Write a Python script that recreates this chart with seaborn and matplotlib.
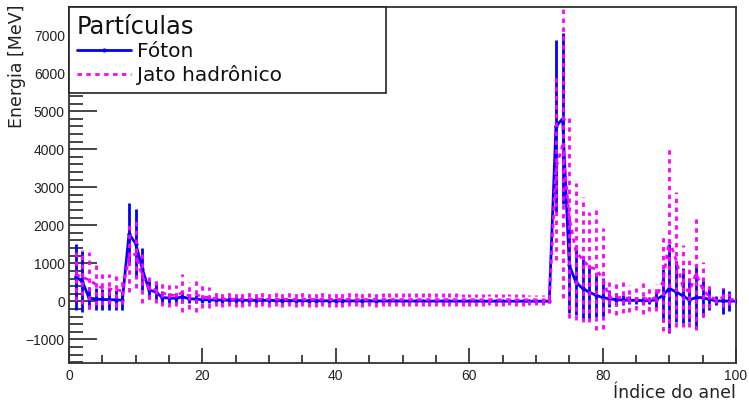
import numpy as np
import pandas as pd
import matplotlib
matplotlib.use("Agg")
import matplotlib.pyplot as plt
import seaborn as sns
from matplotlib.ticker import MultipleLocator

# Ring index
rings = list(range(1, 101))

# Photon (Fóton) energy per ring [MeV] and its uncertainty
foton = [650, 520, 90, 60, 50, 45, 40, 30, 1770, 1520,
         850, 300, 250, 100, 90, 80, 120, 70, 60, 45,
         40, 35, 35, 30, 30, 30, 28, 25, 25, 25,
         22, 22, 20, 20, 18, 18, 18, 15, 15, 15,
         14, 14, 12, 12, 12, 10, 10, 10, 10, 9,
         9, 8, 8, 8, 7, 7, 7, 6, 6, 6,
         5, 5, 5, 5, 4, 4, 4, 4, 3, 3,
         3, 5, 4600, 4800, 950, 500, 340, 240, 160, 100,
         70, 45, 35, 30, 25, 20, 20, 40, 150, 340,
         250, 150, 40, 100, 100, 50, 15, 10, 8, 5]
foton_err = [870, 800, 300, 290, 280, 270, 260, 250, 820, 900,
             550, 230, 200, 160, 140, 130, 150, 110, 100, 90,
             85, 80, 80, 75, 75, 70, 70, 65, 65, 60,
             60, 60, 55, 55, 55, 50, 50, 50, 48, 48,
             45, 45, 45, 42, 42, 40, 40, 40, 38, 38,
             36, 36, 35, 35, 33, 33, 32, 30, 30, 30,
             28, 28, 26, 26, 25, 25, 24, 24, 22, 22,
             20, 25, 2260, 2250, 1250, 870, 830, 700, 560, 520,
             220, 170, 130, 110, 100, 90, 90, 200, 700, 1180,
             800, 720, 580, 830, 520, 290, 120, 330, 260, 60]

# Hadronic jet (Jato hadrônico) energy per ring [MeV] and its uncertainty
jato = [700, 640, 560, 450, 350, 330, 300, 280, 1150, 1250,
        650, 350, 300, 220, 180, 150, 230, 150, 180, 120,
        100, 70, 60, 60, 55, 60, 55, 60, 55, 55,
        55, 50, 55, 50, 55, 50, 50, 55, 50, 50,
        50, 55, 50, 50, 45, 50, 50, 45, 50, 45,
        45, 50, 45, 45, 45, 50, 45, 45, 45, 40,
        45, 40, 45, 40, 40, 45, 40, 40, 40, 40,
        40, 20, 3500, 4100, 2200, 1300, 1100, 900, 850, 600,
        100, 100, 100, 80, 60, 80, 50, 100, 500, 1600,
        1100, 400, 250, 730, 320, 120, 60, 100, 60, 40]
jato_err = [700, 700, 750, 550, 450, 400, 450, 350, 900, 900,
            700, 300, 340, 330, 320, 270, 500, 350, 460, 300,
            280, 200, 200, 190, 200, 200, 190, 200, 190, 200,
            190, 200, 190, 200, 190, 200, 190, 190, 200, 190,
            190, 190, 180, 190, 180, 190, 180, 180, 180, 180,
            180, 170, 180, 170, 170, 170, 170, 170, 160, 160,
            160, 160, 150, 160, 150, 150, 150, 150, 140, 140,
            140, 60, 2400, 4000, 2650, 1800, 1650, 1450, 1600, 1320,
            400, 450, 400, 350, 300, 400, 300, 350, 1270, 2400,
            1780, 1080, 920, 1480, 720, 300, 100, 250, 150, 80]

df = pd.DataFrame({"anel": rings, "foton": foton, "foton_err": foton_err,
                   "jato": jato, "jato_err": jato_err})

sns.set_style("ticks")
plt.rcParams['font.family'] = ['DejaVu Sans']

blue = "#0000ff"
magenta = "#ff00ff"
dash = (0, (1.6, 1.6))

fig = plt.figure(figsize=(7.49, 4.04), dpi=100)
ax = fig.add_axes([0.0921, 0.1015, 0.8906, 0.8819])

# Photon: error bars then line
ax.vlines(df["anel"], df["foton"] - df["foton_err"], df["foton"] + df["foton_err"],
          color=blue, lw=2, zorder=2)
sns.lineplot(data=df, x="anel", y="foton", ax=ax, color=blue, lw=2,
             marker="o", markersize=3, markeredgewidth=0, label="Fóton", zorder=3)

# Hadronic jet: dashed error bars then dashed line
ax.vlines(df["anel"], df["jato"] - df["jato_err"], df["jato"] + df["jato_err"],
          color=magenta, lw=2, linestyles=[dash], zorder=4)
sns.lineplot(data=df, x="anel", y="jato", ax=ax, color=magenta, lw=2,
             linestyle=dash, label="Jato hadrônico", zorder=5)

ax.set_xlim(0, 100)
ax.set_ylim(-1620, 7745)

ax.xaxis.set_major_locator(MultipleLocator(20))
ax.xaxis.set_minor_locator(MultipleLocator(5))
ax.yaxis.set_major_locator(MultipleLocator(1000))
ax.yaxis.set_minor_locator(MultipleLocator(200))

ax.tick_params(axis="x", which="major", direction="in", length=11, width=1.2, pad=4,
               top=False, labelsize=10)
ax.tick_params(axis="x", which="minor", direction="in", length=6, width=1.2, top=False)
ax.tick_params(axis="y", which="major", direction="in", length=20, width=1.2, pad=3,
               right=False, labelsize=10)
ax.tick_params(axis="y", which="minor", direction="in", length=10, width=1.2, right=False)
for lab in ax.get_xticklabels() + ax.get_yticklabels():
    lab.set_family(["Liberation Sans Narrow", "Liberation Sans", "DejaVu Sans"])
    lab.set_color("#222222")

for sp in ax.spines.values():
    sp.set_color("#333333")
    sp.set_linewidth(1.3)

ax.set_xlabel("Índice do anel", fontsize=12.5, loc="right", color="#222222")
ax.xaxis.set_label_coords(1.0, -0.06)
ax.set_ylabel("Energia [MeV]", fontsize=12.5, loc="top", color="#222222")
ax.yaxis.set_label_coords(-0.064, 1.005)

leg = ax.legend(loc="upper left", bbox_to_anchor=(0, 0, 0.475, 1.0), mode="expand",
                borderaxespad=0, title="Partículas", title_fontsize=17.5,
                fontsize=14.5, handlelength=2.7, handletextpad=0.3,
                borderpad=0.4, labelspacing=0.18, fancybox=False,
                framealpha=1, edgecolor="#222222", alignment="left")
leg.get_frame().set_linewidth(1.2)
for t in leg.get_texts():
    t.set_color("#111111")
leg.get_title().set_color("#111111")

fig.savefig("out.png", dpi=100, facecolor="white")
